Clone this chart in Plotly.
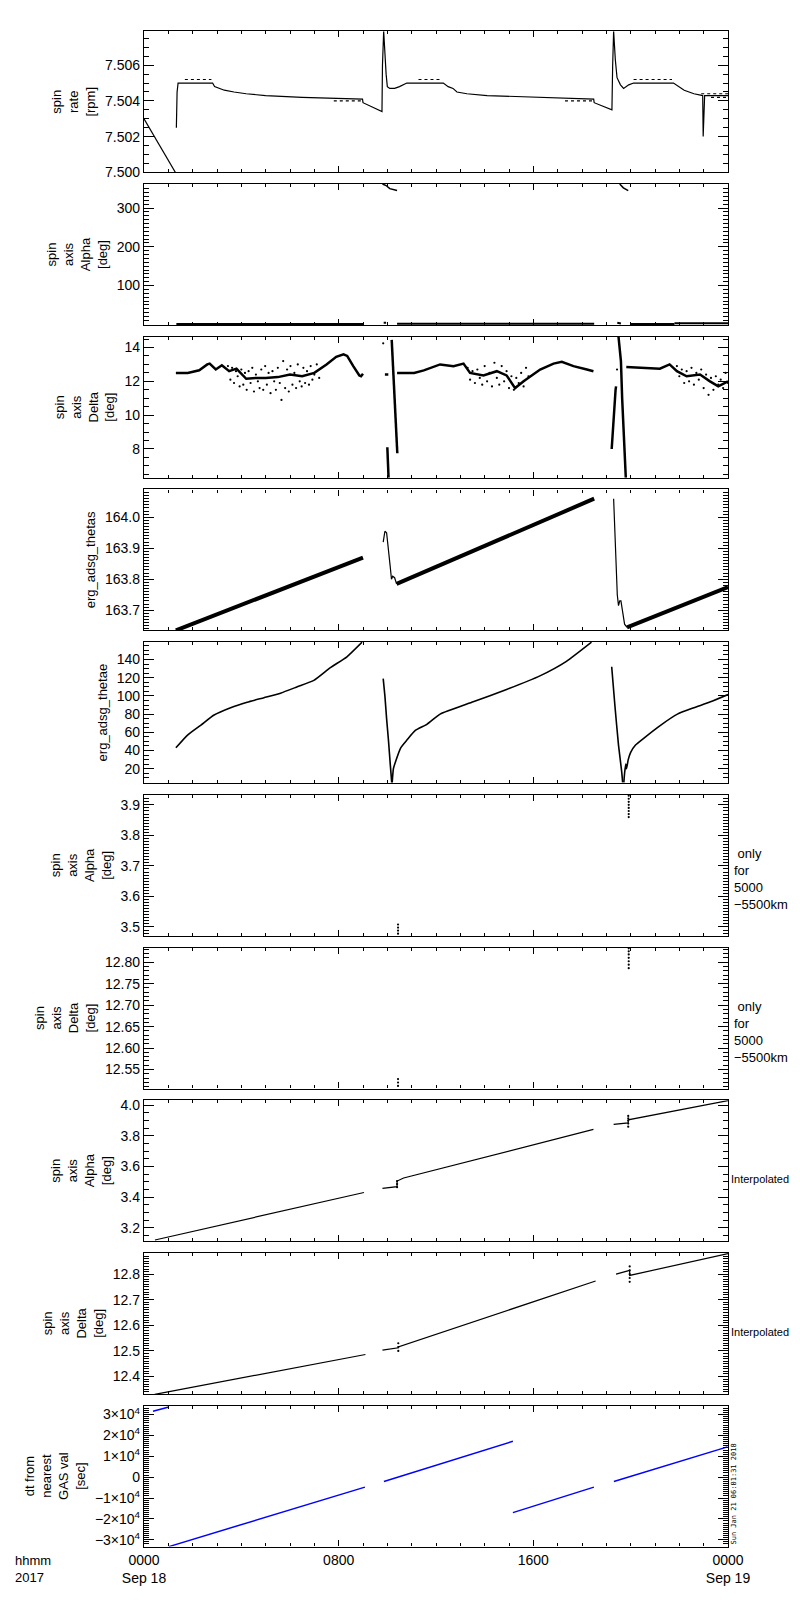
import plotly.graph_objects as go

# time is hours since 2017-09-18 00:00 UT

# panel 1: spin rate [rpm]
rate_t = [0.0, 1.33, None, 1.33, 1.34, 1.36, 1.40, 2.82, 2.90, 3.30, 3.70, 4.20, 5.00, 6.50, 8.98,
          9.00, 9.78, 9.80, 9.85, 9.90, 9.95, 10.00, 10.10, 10.30, 10.50, 10.80, 12.30, 12.50,
          12.70, 12.86, 13.27, 14.10, 16.30, 18.48, 18.50, 19.23, 19.26, 19.30, 19.37, 19.44,
          19.58, 19.71, 19.92, 20.12, 21.76, 22.00, 22.20, 22.60, 22.96, 22.98, 23.00, 23.04, 24.0]
rate_v = [7.5030, 7.4999, None, 7.5025, 7.5034, 7.5045, 7.5050, 7.5050, 7.5048, 7.5046, 7.5045,
          7.5044, 7.5043, 7.5042, 7.5041, 7.5039, 7.5034, 7.5060, 7.5079, 7.5065, 7.5055, 7.5048,
          7.5047, 7.5047, 7.5048, 7.5050, 7.5050, 7.5048, 7.5047, 7.5045, 7.5044, 7.5043, 7.5042,
          7.5041, 7.5039, 7.5035, 7.5060, 7.5079, 7.5063, 7.5053, 7.5049, 7.5047, 7.5049, 7.5050,
          7.5050, 7.5048, 7.5046, 7.5044, 7.5043, 7.5020, 7.5035, 7.5043, 7.5043]
rate_hi_t = [1.68, 2.77, None, 11.28, 12.24, None, 20.12, 21.70, None, 22.90, 24.0]
rate_hi_v = [7.5052, 7.5052, None, 7.5052, 7.5052, None, 7.5052, 7.5052, None, 7.5044, 7.5044]
rate_lo_t = [7.80, 9.00, None, 17.30, 18.50, None, 23.30, 24.0]
rate_lo_v = [7.5040, 7.5040, None, 7.5040, 7.5040, None, 7.5042, 7.5042]

# panel 2: spin axis Alpha [deg]
alpha_t = [1.33, 9.00, None, 9.85, 9.95, None, 10.40, 18.50, None, 19.45, 19.60, None,
           20.00, 21.80, None, 21.80, 24.0]
alpha_v = [1.0, 1.0, None, 4.0, 4.0, None, 1.5, 1.5, None, 4.0, 2.0, None, 1.0, 1.0, None, 3.0, 3.0]
alpha_top_t = [9.80, 9.95, 10.10, 10.40, None, 19.55, 19.70, 19.90]
alpha_top_v = [362, 358, 350, 345, None, 362, 352, 345]

# panel 3: spin axis Delta [deg]
delta_t = [1.31, 1.80, 2.27, 2.60, 2.70, 2.95, 3.20, 3.50, 3.80, 4.20, 4.60, 5.00, 5.50, 6.00,
           6.50, 7.00, 7.50, 7.90, 8.20, 8.35, 8.60, 8.85, 8.92, 9.00, None,
           9.90, 10.04, None, 10.18, 10.30, 10.41, None, 10.00, 10.02, 10.05, None,
           10.40, 11.10, 11.50, 12.17, 12.72, 13.13, 13.40, 13.95, 14.50, 14.90, 15.25, 15.60,
           16.28, 16.83, 17.17, 17.65, 18.20, 18.47, None,
           19.50, 19.60, 19.65, 19.80, None, 19.22, 19.30, 19.38, 19.40, None,
           19.82, 20.37, 21.20, 21.60, 21.90, 22.30, 22.85, 23.26, 23.60, 24.0]
delta_v = [12.50, 12.50, 12.65, 13.00, 13.05, 12.70, 12.95, 12.60, 12.75, 12.15, 12.20, 12.20,
           12.25, 12.40, 12.30, 12.50, 13.00, 13.45, 13.60, 13.50, 12.90, 12.35, 12.30, 12.45, None,
           12.40, 12.40, None, 14.45, 11.00, 7.75, None, 8.10, 7.60, 6.30, None,
           12.50, 12.50, 12.65, 13.00, 12.90, 13.05, 12.50, 12.35, 12.60, 12.35, 11.60, 12.00,
           12.70, 13.05, 13.15, 12.90, 12.70, 12.60, None,
           14.64, 13.20, 11.00, 6.30, None, 8.00, 10.00, 11.50, 11.70, None,
           12.85, 12.80, 12.75, 13.00, 12.60, 12.30, 12.40, 12.00, 11.70, 12.00]
delta_dot_t = [3.45, 3.55, 3.62, 3.70, 3.78, 3.85, 3.93, 4.00, 4.08, 4.15, 4.22, 4.30, 4.38, 4.45,
               4.52, 4.60, 4.68, 4.75, 4.82, 4.90, 4.98, 5.05, 5.12, 5.20, 5.28, 5.35, 5.42, 5.50,
               5.58, 5.65, 5.72, 5.80, 5.88, 5.95, 6.02, 6.10, 6.18, 6.25, 6.32, 6.40, 6.48, 6.55,
               6.62, 6.70, 6.78, 6.85, 6.92, 7.00, 7.10, 7.20,
               13.3, 13.4, 13.5, 13.6, 13.7, 13.8, 13.9, 14.0, 14.1, 14.2, 14.3, 14.4, 14.5, 14.6,
               14.7, 14.8, 14.9, 15.0, 15.1, 15.2, 15.3, 15.4, 15.5, 15.6, 15.7, 15.8,
               21.9, 22.0, 22.1, 22.2, 22.3, 22.4, 22.5, 22.6, 22.7, 22.8, 22.9, 23.0, 23.1, 23.2,
               23.3, 23.4, 23.5, 23.6, 23.7, 23.8, 23.9, 24.0, 9.83, 19.44]
delta_dot_v = [12.9, 12.1, 12.8, 11.9, 12.6, 12.3, 11.7, 12.7, 11.8, 12.5, 11.5, 12.6, 11.9, 12.8,
               11.4, 12.4, 12.0, 11.6, 12.7, 11.5, 12.9, 11.8, 12.5, 11.3, 12.6, 12.0, 11.5, 12.8,
               11.9, 10.9, 13.2, 11.6, 12.7, 11.4, 12.9, 11.8, 12.5, 11.6, 13.0, 12.0, 11.7, 12.8,
               11.9, 12.6, 11.8, 12.9, 12.1, 12.4, 13.0, 12.2,
               12.8, 12.1, 12.6, 11.9, 12.7, 12.2, 11.8, 12.9, 12.0, 12.5, 11.7, 13.1, 12.2, 11.8,
               12.9, 12.0, 12.6, 11.6, 12.3, 11.5, 12.2, 11.9, 12.5, 11.7, 12.8, 12.3,
               12.9, 12.3, 12.7, 11.9, 12.6, 12.0, 12.8, 11.8, 12.5, 12.1, 12.7, 11.6, 12.4, 11.2,
               12.2, 11.5, 12.3, 11.8, 12.1, 11.6, 12.5, 11.9, 14.25, 12.7]

# panel 4: erg_adsg_thetas
thetas_t = [1.31, 9.00, None, 10.38, 18.50, None, 19.85, 24.0]
thetas_v = [163.635, 163.870, None, 163.785, 164.060, None, 163.645, 163.775]
thetas_jump_t = [9.83, 9.90, 9.97, 10.05, 10.12, 10.17, 10.22, 10.30, 10.38, None,
                 19.30, 19.45, 19.50, 19.55, 19.60, 19.65, 19.75, 19.85]
thetas_jump_v = [163.920, 163.955, 163.950, 163.900, 163.840, 163.800, 163.810, 163.805, 163.785, None,
                 164.060, 163.750, 163.715, 163.730, 163.730, 163.700, 163.655, 163.645]

# panel 5: erg_adsg_thetae
thetae_t = [1.31, 1.79, 2.34, 2.88, 3.56, 4.24, 4.93, 5.61, 6.30, 6.98, 7.66, 8.34, 8.96, None,
            9.83, 9.90, 9.97, 10.05, 10.12, 10.18, None,
            10.20, 10.25, 10.34, 10.55, 10.82, 11.15, 11.64, 12.17, 13.53, 14.90, 16.27, 17.36, 18.39, None,
            19.22, 19.36, 19.50, 19.63, 19.67, None,
            19.72, 19.75, 19.80, 19.83, 19.90, 20.00, 20.20, 20.56, 21.24, 21.92, 22.60, 23.28, 24.0]
thetae_v = [43, 57, 68, 79, 87, 93, 98, 103, 110, 117, 131, 143, 159, None,
            119, 100, 75, 50, 25, 5, None,
            5, 20, 28, 43, 52, 62, 69, 80, 93.5, 107, 122, 138, 159, None,
            132, 87, 46, 17, 5, None,
            5, 15, 25, 20, 30, 38, 46, 54, 68, 80, 87, 93.5, 101.5]

# panels 6, 7: only for 5000-5500km
alpha_r_t = [10.44, 10.44, 10.44, 10.44, 19.92, 19.92, 19.92, 19.92, 19.92, 19.92, 19.92, 19.92]
alpha_r_v = [3.508, 3.498, 3.488, 3.478, 3.930, 3.920, 3.910, 3.900, 3.890, 3.880, 3.870, 3.860]
delta_r_t = [10.44, 10.44, 10.44, 19.92, 19.92, 19.92, 19.92, 19.92, 19.92, 19.92]
delta_r_v = [12.528, 12.520, 12.512, 12.832, 12.825, 12.818, 12.810, 12.802, 12.794, 12.786]

# panels 8, 9: interpolated
alpha_i_t = [0.45, 9.04, None, 9.80, 10.40, 10.40, 10.67, 18.47, None, 19.30, 19.90, 19.90, 23.70, 24.0]
alpha_i_v = [3.120, 3.430, None, 3.457, 3.468, 3.505, 3.525, 3.842, None, 3.875, 3.885, 3.905, 4.020, 4.030]
alpha_i_dot_t = [10.40, 10.40, 10.40, 19.90, 19.90, 19.90, 19.90, 19.90]
alpha_i_dot_v = [3.465, 3.485, 3.505, 3.860, 3.880, 3.900, 3.915, 3.930]
delta_i_t = [0.44, 9.10, None, 9.80, 10.45, 10.45, 18.56, None, 19.40, 19.96, 19.96, 24.0]
delta_i_v = [12.330, 12.486, None, 12.503, 12.512, 12.516, 12.773, None, 12.800, 12.815, 12.795, 12.880]
delta_i_dot_t = [10.45, 10.45, 10.45, 19.96, 19.96, 19.96, 19.96, 19.96]
delta_i_dot_v = [12.500, 12.515, 12.530, 12.770, 12.785, 12.800, 12.815, 12.830]

# panel 10: dt from nearest GAS val [sec]
dt_t = [0.37, 1.02, None, 1.02, 9.08, None, 9.86, 15.16, None, 15.16, 18.49, None, 19.31, 23.98]
dt_v = [31600, 33600, None, -33300, -4800, None, -2100, 17200, None, -17000, -4800, None, -2100, 14500]

x_tickvals = [0, 8, 16, 24]
x_ticktext = ['0000<br>Sep 18', '0800', '1600', '0000<br>Sep 19']
dt_tickvals = [-30000, -20000, -10000, 0, 10000, 20000, 30000]
dt_ticktext = ['\u22123\u00d710<sup>4</sup>', '\u22122\u00d710<sup>4</sup>', '\u22121\u00d710<sup>4</sup>',
               '0', '1\u00d710<sup>4</sup>', '2\u00d710<sup>4</sup>', '3\u00d710<sup>4</sup>']

FONT = 'Liberation Sans'
BLUE = '#0000ff'

fig = go.Figure()


def line(panel, t, v, width=1.0, color='black', dash='solid', shape='linear'):
    ax = '' if panel == 1 else str(panel)
    fig.add_trace(go.Scatter(x=t, y=v, mode='lines', xaxis='x' + ax, yaxis='y' + ax,
                             line=dict(color=color, width=width, dash=dash, shape=shape,
                                       smoothing=0.5 if shape == 'spline' else None),
                             showlegend=False, hoverinfo='skip'))


def dots(panel, t, v, size=2.2):
    ax = '' if panel == 1 else str(panel)
    fig.add_trace(go.Scatter(x=t, y=v, mode='markers', xaxis='x' + ax, yaxis='y' + ax,
                             marker=dict(color='black', size=size, line=dict(width=0)),
                             showlegend=False, hoverinfo='skip'))


line(1, rate_t, rate_v, 1.2)
line(1, rate_hi_t, rate_hi_v, 1.2, dash='dot')
line(1, rate_lo_t, rate_lo_v, 1.2, dash='dot')
line(2, alpha_t, alpha_v, 2)
line(2, alpha_top_t, alpha_top_v, 1.5)
line(3, delta_t, delta_v, 2.5)
dots(3, delta_dot_t, delta_dot_v)
line(4, thetas_t, thetas_v, 4)
line(4, thetas_jump_t, thetas_jump_v, 1.2)
line(5, thetae_t, thetae_v, 1.6, shape='spline')
dots(6, alpha_r_t, alpha_r_v)
dots(7, delta_r_t, delta_r_v)
line(8, alpha_i_t, alpha_i_v, 1.2)
dots(8, alpha_i_dot_t, alpha_i_dot_v)
line(9, delta_i_t, delta_i_v, 1.2)
dots(9, delta_i_dot_t, delta_i_dot_v)
line(10, dt_t, dt_v, 1.5, color=BLUE)

# panel layout in pixels (800x1600 page)
W, H = 800, 1600
L, R, T, B = 136, 80, 23, 61
PH = H - T - B
TOP0, PITCH, PANEL_H = 23.3, 152.7, 141.0

panels = [
    dict(title='spin<br>rate<br>[rpm]', rng=[7.5000, 7.5079], tickvals=[7.500, 7.502, 7.504, 7.506],
         fmt='.3f', minor=0.0005),
    dict(title='spin<br>axis<br>Alpha<br>[deg]', rng=[-1.8, 362], tickvals=[100, 200, 300],
         fmt='d', minor=10),
    dict(title='spin<br>axis<br>Delta<br>[deg]', rng=[6.30, 14.64], tickvals=[8, 10, 12, 14],
         fmt='d', minor=0.5),
    dict(title='erg_adsg_thetas', rng=[163.635, 164.09], tickvals=[163.7, 163.8, 163.9, 164.0],
         fmt='.1f', minor=0.01),
    dict(title='erg_adsg_thetae', rng=[4.2, 159.1], tickvals=[20, 40, 60, 80, 100, 120, 140],
         fmt='d', minor=5),
    dict(title='spin<br>axis<br>Alpha<br>[deg]', rng=[3.471, 3.933], tickvals=[3.5, 3.6, 3.7, 3.8, 3.9],
         fmt='.1f', minor=0.01),
    dict(title='spin<br>axis<br>Delta<br>[deg]', rng=[12.506, 12.834],
         tickvals=[12.55, 12.60, 12.65, 12.70, 12.75, 12.80], fmt='.2f', minor=0.01),
    dict(title='spin<br>axis<br>Alpha<br>[deg]', rng=[3.112, 4.033], tickvals=[3.2, 3.4, 3.6, 3.8, 4.0],
         fmt='.1f', minor=0.05),
    dict(title='spin<br>axis<br>Delta<br>[deg]', rng=[12.332, 12.883], tickvals=[12.4, 12.5, 12.6, 12.7, 12.8],
         fmt='.1f', minor=0.01),
    dict(title='dt from<br>nearest<br>GAS val<br>[sec]', rng=[-33300, 34300], tickvals=dt_tickvals,
         ticktext=dt_ticktext, minor=1000),
]

layout = dict(
    width=W, height=H,
    margin=dict(l=L, r=R, t=T, b=B),
    paper_bgcolor='white', plot_bgcolor='white',
    font=dict(family=FONT, size=14, color='black'),
    showlegend=False,
)

for i, p in enumerate(panels, start=1):
    top = TOP0 + (i - 1) * PITCH
    bot = top + PANEL_H
    d0 = max(0.0, (H - B - bot) / PH)
    d1 = min(1.0, (H - B - top) / PH)
    xa = dict(
        anchor='y' if i == 1 else f'y{i}', domain=[0, 1], range=[0, 24],
        showline=True, linecolor='black', linewidth=1.3, mirror='ticks',
        ticks='inside', ticklen=6, tickcolor='black', tickwidth=1,
        tickmode='array', tickvals=x_tickvals, ticktext=x_ticktext,
        showticklabels=(i == 10), showgrid=False, zeroline=False,
        tickfont=dict(size=14),
        minor=dict(ticks='inside', ticklen=3, tickmode='linear', tick0=0, dtick=1,
                   tickcolor='black', showgrid=False),
    )
    if i > 1:
        xa['matches'] = 'x'
    ya = dict(
        anchor='x' if i == 1 else f'x{i}', domain=[d0, d1], range=p['rng'],
        showline=True, linecolor='black', linewidth=1.3, mirror='ticks',
        ticks='inside', ticklen=10, tickcolor='black', tickwidth=1,
        tickmode='array', tickvals=p['tickvals'],
        showgrid=False, zeroline=False, tickfont=dict(size=14),
        title=dict(text=p['title'], font=dict(size=13), standoff=6),
        minor=dict(ticks='inside', ticklen=5, tickmode='linear', tick0=0, dtick=p['minor'],
                   tickcolor='black', showgrid=False),
    )
    if 'ticktext' in p:
        ya['ticktext'] = p['ticktext']
    else:
        ya['tickformat'] = p['fmt']
    layout['xaxis' if i == 1 else f'xaxis{i}'] = xa
    layout['yaxis' if i == 1 else f'yaxis{i}'] = ya

fig.update_layout(**layout)


def py(px):
    return (H - B - px) / PH


def pxx(px):
    return (px - L) / (W - L - R)


notes = [
    dict(text='\u00a0only<br>for<br>5000<br>\u22125500km', x=pxx(725), y=py(871), size=13),
    dict(text='\u00a0only<br>for<br>5000<br>\u22125500km', x=pxx(725), y=py(1023.5), size=13),
    dict(text='Interpolated', x=pxx(721.5), y=py(1171), size=11),
    dict(text='Interpolated', x=pxx(721.5), y=py(1324), size=11),
    dict(text='hhmm<br>2017', x=pxx(6), y=py(1561), size=13),
]
for n in notes:
    fig.add_annotation(text=n['text'], x=n['x'], y=n['y'], xref='paper', yref='paper',
                       xanchor='left', yanchor='middle', align='left', showarrow=False,
                       borderpad=0, font=dict(family=FONT, size=n['size'], color='black'))

fig.add_annotation(text='Sun Jan 21 06:01:31 2018', x=pxx(725), y=py(1538), xref='paper', yref='paper',
                   xanchor='center', yanchor='bottom', textangle=-90, showarrow=False, borderpad=0,
                   font=dict(family='DejaVu Sans Mono', size=7, color='black'))

fig.write_html('out.html')
